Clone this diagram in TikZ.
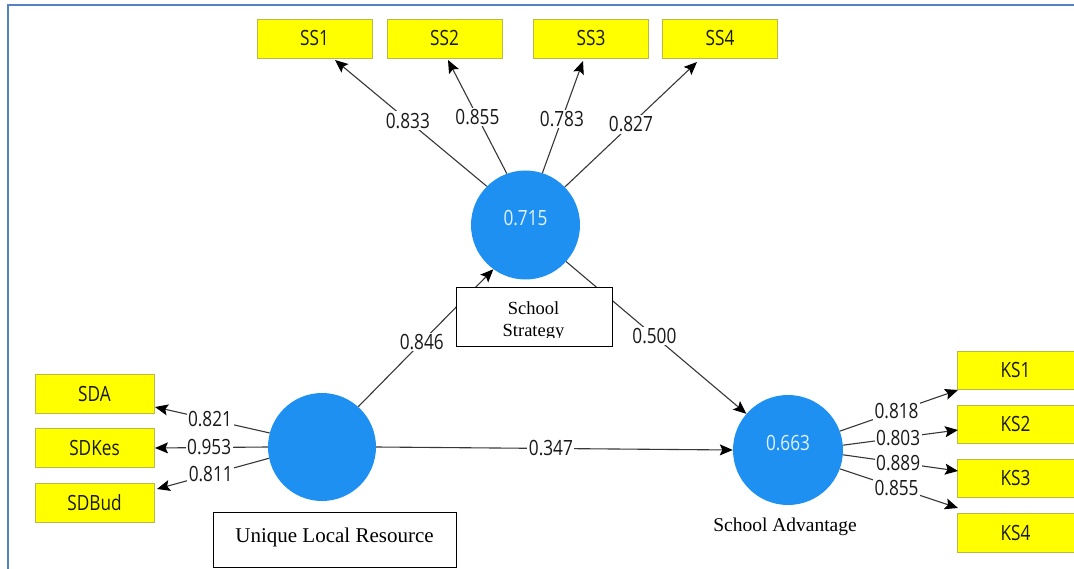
\documentclass[tikz,border=0pt]{standalone}
\usepackage{fontspec}
\setmainfont{Liberation Serif}
\newfontfamily\osans{Open Sans}
\usetikzlibrary{arrows.meta,calc}
\definecolor{circblue}{RGB}{30,144,242}
\definecolor{boxyel}{RGB}{255,255,0}
\definecolor{boxedge}{RGB}{185,185,70}
\definecolor{frameblue}{RGB}{84,130,200}
\definecolor{linegray}{RGB}{55,55,55}
\definecolor{circtext}{RGB}{225,242,255}
\newcommand\sq[1]{\scalebox{0.82}[1]{#1}}
\begin{document}
\begin{tikzpicture}[x=1pt,y=-1pt,
  ind/.style={draw=boxedge, fill=boxyel, minimum width=115pt, minimum height=39pt, inner sep=0pt,
    font=\osans\fontsize{21}{24}\selectfont, text=black!90},
  lv/.style={circle, fill=circblue, minimum size=#1, inner sep=0pt},
  ctext/.style={font=\osans\fontsize{21}{24}\selectfont, text=circtext, inner sep=0pt},
  conn/.style={draw=linegray, line width=1.1pt, -{Stealth[length=13pt,width=11pt,inset=2.5pt,black]}},
  lab/.style={fill=white, inner sep=1.5pt, font=\osans\fontsize{21}{24}\selectfont, text=black!90},
  namebox/.style={draw=black, fill=white, line width=0.8pt, inner sep=0pt},
  serif/.style={inner sep=0pt, anchor=base, text=black}]
\useasboundingbox (0,0) rectangle (1074,569);
% frame
\draw[frameblue, line width=2pt] (8,569) -- (8,5) -- (1074,5);

% indicator boxes
\node[ind] (SS1) at (314.5,38.5) {\sq{SS1}};
\node[ind] (SS2) at (444.5,38.5) {\sq{SS2}};
\node[ind] (SS3) at (591,38.5) {\sq{SS3}};
\node[ind] (SS4) at (720,38.5) {\sq{SS4}};
\node[ind, minimum width=119pt] (SDA) at (94.5,393.5) {\sq{SDA}};
\node[ind, minimum width=119pt] (SDKes) at (94.5,447.5) {\sq{SDKes}};
\node[ind, minimum width=119pt] (SDBud) at (94.5,502.5) {\sq{SDBud}};
\node[ind, minimum width=117pt, minimum height=38.5pt] (KS1) at (1015.5,370) {\sq{KS1}};
\node[ind, minimum width=117pt, minimum height=38.5pt] (KS2) at (1015.5,424) {\sq{KS2}};
\node[ind, minimum width=117pt, minimum height=38.5pt] (KS3) at (1015.5,478) {\sq{KS3}};
\node[ind, minimum width=117pt, minimum height=38.5pt] (KS4) at (1015.5,532.5) {\sq{KS4}};

% latent variables
\node[lv=109pt] (SSc) at (525.5,225) {};
\node[lv=108pt] (ULR) at (322,447) {};
\node[lv=110pt] (SA) at (788,450) {};
\node[ctext] (SSv) at (525.5,218) {\sq{0.715}};
\node[ctext] (SAv) at (788,443) {\sq{0.663}};

% arrow end points on the indicator boxes
\coordinate (t1) at (335,60);
\coordinate (t2) at (448,60);
\coordinate (t3) at (583,61);
\coordinate (t4) at (697,62);
\coordinate (tA) at (155,407);
\coordinate (tK) at (155,448);
\coordinate (tB) at (157,489);
\coordinate (k1) at (958,390);
\coordinate (k2) at (958,430);
\coordinate (k3) at (958,471);
\coordinate (k4) at (958,508);

% outer loadings
\draw[conn] (SSc.135) -- node[lab,pos=0.52]{\sq{0.833}} (t1);
\draw[conn] (SSc.110) -- node[lab,pos=0.5]{\sq{0.855}} (t2);
\draw[conn] (SSc.72) -- node[lab,pos=0.48]{\sq{0.783}} (t3);
\draw[conn] (SSc.44) -- node[lab,pos=0.5]{\sq{0.827}} (t4);
\draw[conn] (ULR.165) -- node[lab,pos=0.52]{\sq{0.821}} (tA);
\draw[conn] (ULR.180) -- node[lab,pos=0.52]{\sq{0.953}} (tK);
\draw[conn] (ULR.192) -- node[lab,pos=0.52]{\sq{0.811}} (tB);
\draw[conn] (SA.20) -- node[lab,pos=0.48]{\sq{0.818}} (k1);
\draw[conn] (SA.5) -- node[lab,pos=0.48]{\sq{0.803}} (k2);
\draw[conn] (SA.-5) -- node[lab,pos=0.48]{\sq{0.889}} (k3);
\draw[conn] (SA.-20) -- node[lab,pos=0.48]{\sq{0.855}} (k4);

% structural paths
\draw[conn] (ULR.48) -- node[lab,pos=0.47]{\sq{0.846}} (SSc.234);
\draw[conn] (SSc.-42) -- node[lab,pos=0.49]{\sq{0.500}} (SA.139);
\draw[conn] (ULR.east) -- node[lab,pos=0.49]{\sq{0.347}} (SA.west);

% name labels
\node[namebox, minimum width=156pt, minimum height=59pt] (ssbox) at (534,316.5) {};
\begin{scope}
  \clip (457,288) rectangle (611,337.5);
  \node[serif, font=\fontsize{18.5}{22}\selectfont] (ssname1) at (533.5,315) {School};
  \node[serif, font=\fontsize{18.5}{22}\selectfont] (ssname2) at (533.5,337) {Strategy};
\end{scope}
\node[namebox, minimum width=243pt, minimum height=55pt] (ulrbox) at (334.5,539.5) {};
\node[serif, font=\fontsize{21}{24}\selectfont] (ulrname) at (334.5,542) {Unique Local Resource};
\node[serif, font=\fontsize{19.5}{23}\selectfont] (saname) at (785,531) {School Advantage};
\end{tikzpicture}
\end{document}
